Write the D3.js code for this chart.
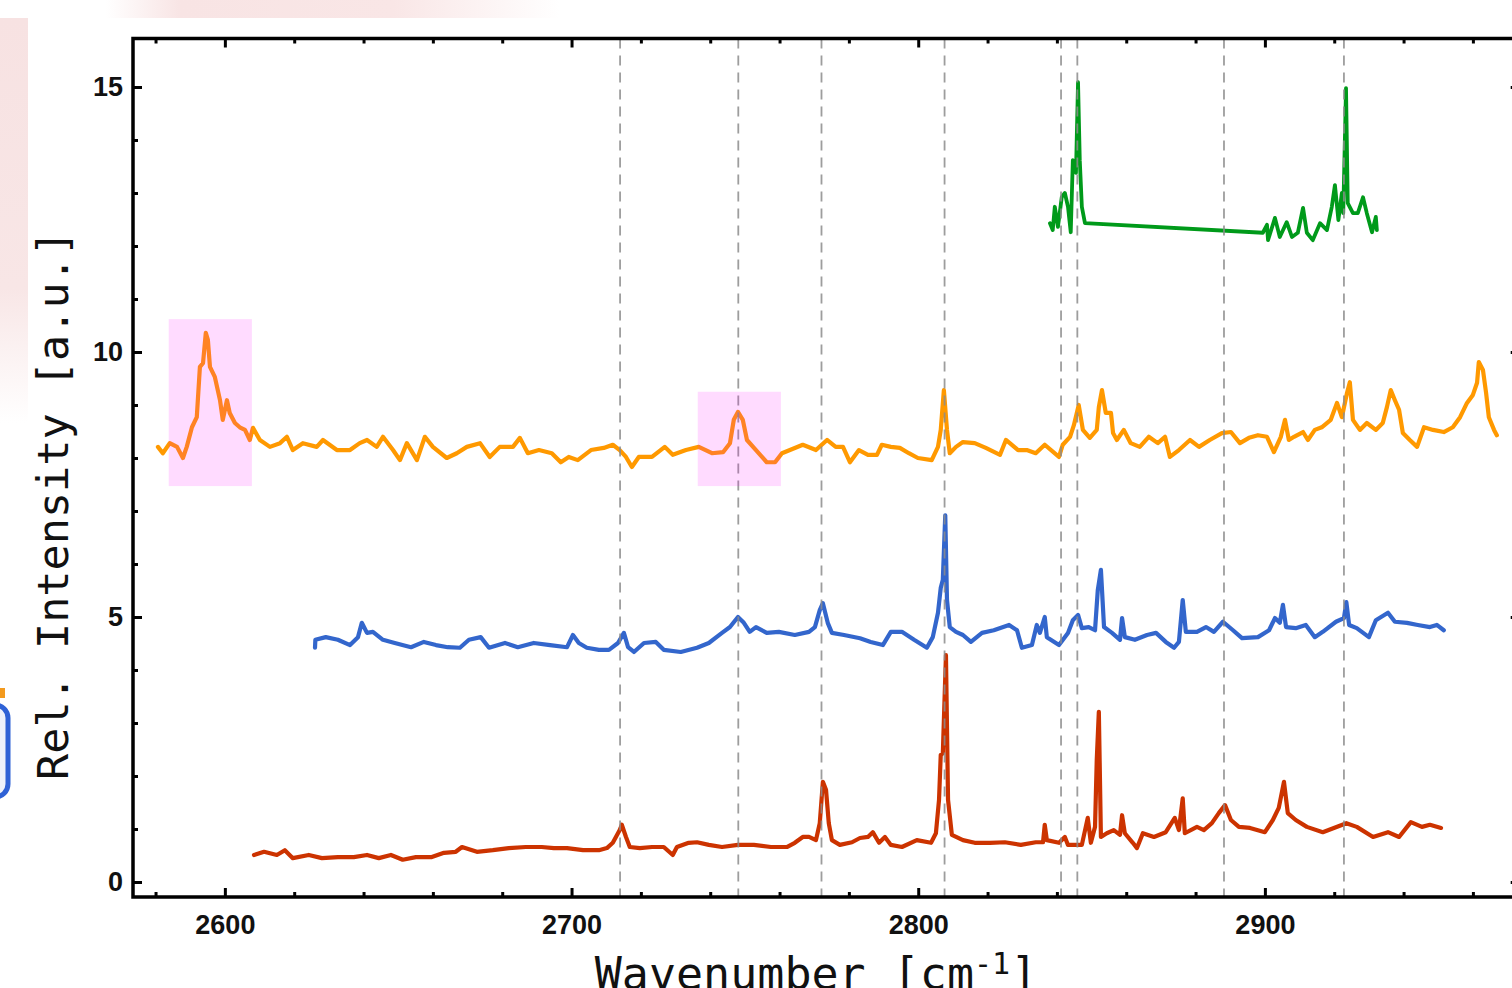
<!DOCTYPE html>
<html><head><meta charset="utf-8">
<script src="https://cdn.jsdelivr.net/npm/d3@7"></script>
<style>html,body{margin:0;padding:0;background:#fff;overflow:hidden}</style>
</head><body>
<svg id="chart" width="1512" height="988"></svg>
<script>
// ---------- data ----------
const orangeX = [2580.7,2582.1,2584.1,2586.2,2587.9,2589.0,2590.5,2591.9,2592.8,2593.7,2594.5,2595.1,2595.7,2597.1,2598.6,2599.4,2600.6,2601.4,2602.9,2604.3,2605.8,2607.2,2608.1,2610.1,2613.0,2615.9,2617.9,2619.6,2622.5,2626.5,2628.3,2632.3,2636.1,2638.9,2641.0,2643.8,2645.6,2648.5,2650.5,2652.5,2655.4,2657.7,2660.0,2664.0,2666.9,2669.8,2673.6,2676.4,2679.3,2683.1,2685.1,2687.4,
2690.6,2694.3,2696.9,2699.2,2701.8,2705.6,2709.3,2711.9,2713.9,2715.7,2717.4,2719.4,2723.2,2726.9,2729.2,2733.0,2736.7,2740.5,2743.7,2745.7,2746.8,2748.0,2749.4,2750.6,2753.2,2756.3,2758.7,2760.7,2763.0,2766.7,2770.5,
2773.7,2776.2,2778.3,2780.3,2782.9,2785.5,2788.1,2789.5,2792.1,2794.7,2797.3,2799.9,2803.9,2805.7,2806.5,2807.4,2808.3,2809.1,2810.9,2812.9,2816.3,2819.5,2823.6,2825.3,2828.8,2831.3,2833.9,2836.5,2840.6,2841.7,2843.8,2844.9,2846.3,2847.5,2849.5,2851.5,2852.1,2853.0,2854.1,2855.6,2856.2,2857.3,2859.3,2861.3,2863.9,2866.5,2869.1,2871.2,2872.6,2875.2,2878.4,2881.0,2884.1,2887.6,2890.2,2892.8,2895.4,2898.0,2900.6,2902.6,2904.6,2905.8,2906.9,2908.4,2911.0,2912.4,2914.4,2916.4,2919.0,2920.8,2922.2,2923.7,2924.5,2925.4,2927.4,2929.4,2932.0,2934.0,2935.2,2936.3,2937.5,2938.7,2939.8,2941.8,2943.9,2945.9,2948.5,2951.6,2954.2,2956.3,2958.3,2960.0,2961.2,2961.7,2962.9,2963.8,2964.6,2966.1,2966.9];
const orangeY = [8.21,8.09,8.28,8.21,8.00,8.21,8.58,8.77,9.72,9.79,10.36,10.23,9.72,9.53,9.09,8.72,9.09,8.85,8.66,8.58,8.53,8.34,8.57,8.34,8.21,8.28,8.40,8.15,8.28,8.21,8.34,8.15,8.15,8.28,8.34,8.21,8.40,8.15,7.96,8.28,7.96,8.40,8.21,8.00,8.09,8.21,8.28,8.02,8.21,8.21,8.38,8.09,
8.15,8.09,7.92,8.02,7.96,8.15,8.19,8.25,8.15,8.02,7.83,8.02,8.02,8.21,8.06,8.15,8.21,8.09,8.11,8.28,8.72,8.87,8.72,8.34,8.15,7.92,7.92,8.09,8.15,8.25,8.15,
8.34,8.21,8.21,7.92,8.15,8.06,8.06,8.25,8.21,8.19,8.09,8.00,7.96,8.21,8.53,9.28,8.53,8.09,8.21,8.30,8.28,8.19,8.06,8.34,8.15,8.15,8.09,8.25,8.02,8.25,8.40,8.62,9.00,8.53,8.38,8.53,8.96,9.28,8.85,8.85,8.47,8.34,8.53,8.28,8.21,8.40,8.28,8.40,8.02,8.15,8.34,8.21,8.34,8.47,8.49,8.28,8.38,8.43,8.40,8.11,8.40,8.72,8.34,8.40,8.49,8.34,8.53,8.58,8.72,9.04,8.77,9.23,9.43,8.72,8.53,8.66,8.53,8.66,8.96,9.28,9.09,8.91,8.47,8.34,8.21,8.58,8.53,8.49,8.58,8.77,9.04,9.19,9.42,9.81,9.66,9.23,8.77,8.53,8.43];

const blueX = [2626.0,2626.1,2629.1,2632.6,2636.1,2638.4,2639.5,2641.0,2642.7,2645.6,2649.0,2653.7,2657.4,2660.9,2664.3,2667.8,2670.4,2673.8,2676.2,2680.8,2684.5,2689.1,2693.8,2698.7,2700.4,2702.1,2704.4,2707.9,2710.8,2713.4,2715.1,2716.3,2718.0,2720.9,2724.3,2726.6,2731.5,2736.2,2739.6,2743.4,2745.7,2748.0,2749.7,2751.4,2753.2,2756.3,2759.8,2764.4,2768.5,2770.2,2771.6,2772.5,2773.9,2775.1,2778.6,2783.2,2786.3,2789.8,2792.1,2795.3,2798.8,2802.5,2804.2,2805.7,2806.5,2807.1,2807.8,2808.3,2809.1,2810.9,2812.9,2815.2,2818.4,2821.8,2826.2,2828.5,2829.9,2832.8,2834.2,2835.1,2836.5,2837.1,2840.6,2843.2,2844.6,2846.1,2847.2,2849.2,2851.0,2851.8,2852.7,2853.6,2855.9,2858.2,2858.8,2859.6,2862.5,2866.0,2868.6,2871.4,2873.8,2875.2,2876.3,2877.2,2880.4,2883.0,2885.3,2887.9,2890.8,2893.4,2898.0,2901.2,2902.9,2904.3,2905.2,2906.1,2908.9,2911.8,2914.4,2916.7,2920.5,2922.8,2923.5,2924.3,2926.5,2930.0,2932.0,2935.5,2937.5,2941.0,2944.1,2947.6,2949.6,2951.6];
const blueY = [4.42,4.57,4.62,4.57,4.47,4.62,4.89,4.70,4.72,4.57,4.51,4.43,4.53,4.47,4.43,4.42,4.57,4.62,4.42,4.51,4.43,4.51,4.47,4.43,4.66,4.51,4.42,4.38,4.38,4.51,4.70,4.43,4.34,4.51,4.53,4.38,4.34,4.42,4.51,4.70,4.81,5.00,4.89,4.72,4.81,4.70,4.72,4.66,4.72,4.81,5.13,5.26,4.89,4.70,4.66,4.60,4.53,4.47,4.72,4.72,4.57,4.42,4.62,5.08,5.55,5.70,6.92,5.32,4.81,4.72,4.66,4.53,4.70,4.75,4.85,4.75,4.42,4.47,4.85,4.70,5.00,4.62,4.47,4.70,4.94,5.04,4.79,4.81,4.75,5.51,5.89,4.81,4.70,4.57,4.98,4.62,4.57,4.66,4.70,4.53,4.42,4.53,5.32,4.72,4.72,4.81,4.72,4.91,4.75,4.60,4.62,4.75,4.98,4.89,5.23,4.81,4.79,4.85,4.62,4.72,4.91,4.98,5.28,4.85,4.79,4.62,4.94,5.08,4.91,4.89,4.85,4.81,4.85,4.75];

const redX = [2608.4,2611.3,2615.0,2617.3,2619.6,2624.2,2628.0,2632.6,2637.2,2641.0,2644.4,2647.9,2651.3,2655.1,2659.7,2663.2,2666.6,2668.4,2672.7,2677.3,2681.9,2686.8,2691.4,2694.9,2698.7,2703.3,2707.9,2710.2,2711.9,2713.9,2714.5,2715.7,2716.8,2719.7,2723.2,2726.6,2729.2,2730.4,2733.8,2736.2,2739.6,2743.4,2748.0,2752.6,2757.5,2762.1,2764.4,2766.7,2768.5,2770.5,2771.6,2772.5,2773.4,2774.2,2775.1,2777.4,2780.9,2783.2,2785.5,2786.9,2788.7,2790.4,2792.1,2795.3,2799.6,2803.7,2805.1,2806.0,2806.5,2807.1,2808.0,2808.6,2809.7,2812.9,2816.3,2820.7,2825.0,2829.6,2833.9,2836.0,2836.5,2837.1,2840.6,2842.3,2843.2,2847.2,2848.9,2849.8,2851.0,2851.5,2852.1,2852.7,2854.4,2856.4,2858.2,2858.8,2859.6,2861.9,2863.1,2864.8,2868.0,2871.4,2874.0,2875.2,2876.3,2876.9,2880.4,2882.4,2884.7,2886.7,2888.5,2890.2,2892.5,2895.7,2900.0,2902.3,2904.0,2905.5,2906.6,2908.9,2912.1,2916.7,2919.9,2923.5,2926.5,2931.2,2935.5,2938.7,2942.1,2945.3,2947.6,2950.8];
const redY = [0.51,0.57,0.51,0.60,0.45,0.51,0.45,0.47,0.47,0.51,0.45,0.51,0.42,0.47,0.47,0.55,0.57,0.66,0.57,0.60,0.64,0.66,0.66,0.64,0.64,0.60,0.60,0.64,0.74,0.98,1.08,0.85,0.66,0.64,0.66,0.66,0.51,0.66,0.74,0.75,0.70,0.66,0.70,0.70,0.66,0.66,0.74,0.85,0.85,0.79,1.11,1.89,1.74,1.11,0.79,0.70,0.75,0.83,0.85,0.94,0.74,0.85,0.70,0.66,0.79,0.74,0.92,1.55,2.40,2.43,4.28,1.55,0.89,0.79,0.74,0.74,0.75,0.70,0.75,0.75,1.08,0.79,0.74,0.85,0.70,0.70,1.21,0.74,1.04,2.30,3.21,0.85,0.92,0.98,0.89,1.26,0.92,0.74,0.64,0.92,0.85,0.94,1.21,0.98,1.58,0.92,1.04,0.98,1.11,1.30,1.45,1.17,1.04,1.02,0.94,1.17,1.40,1.89,1.30,1.17,1.04,0.94,1.02,1.11,1.04,0.85,0.94,0.85,1.13,1.04,1.08,1.02];

const greenX = [2838.0,2838.8,2839.4,2840.3,2841.4,2842.3,2843.2,2844.0,2844.6,2845.5,2846.1,2846.6,2847.2,2848.1,2899.4,2900.6,2900.9,2902.9,2904.3,2906.3,2907.8,2909.5,2911.0,2912.1,2913.8,2915.9,2917.9,2919.3,2920.2,2921.2,2922.2,2922.6,2923.4,2923.9,2925.4,2926.8,2928.3,2929.4,2930.9,2932.0,2932.3];
const greenY = [12.43,12.30,12.74,12.36,12.92,13.00,12.74,12.26,13.62,13.38,15.09,13.62,12.74,12.43,12.25,12.40,12.11,12.53,12.17,12.45,12.17,12.25,12.72,12.25,12.11,12.43,12.30,12.74,13.15,12.49,13.00,12.62,14.98,12.81,12.62,12.62,12.92,12.62,12.26,12.55,12.30];

const markerLines = [2714.0,2748.1,2772.1,2807.6,2841.2,2845.9,2888.2,2922.8];
const highlightX0 = [2583.8,2736.4];
const highlightX1 = [2607.8,2760.4];
const highlightY0 = [7.47,7.47];
const highlightY1 = [10.62,9.25];

const xMajorTicks = [2600,2700,2800,2900];
const xMinorTicks = [2580,2620,2640,2660,2680,2720,2740,2760,2780,2820,2840,2860,2880,2920,2940,2960];
const yMajorTicks = [0,5,10,15];
const yMinorTicks = [1,2,3,4,6,7,8,9,11,12,13,14];
const xDomain = [2573.5, 2973.5];
const yDomain = [-0.283, 15.915];

const seriesList = [
  {name:"orange", xs:orangeX, ys:orangeY, color:"#ff9900", w:4.2},
  {name:"blue", xs:blueX, ys:blueY, color:"#3366cc", w:4.2},
  {name:"red", xs:redX, ys:redY, color:"#cc3300", w:4.2},
  {name:"green", xs:greenX, ys:greenY, color:"#009a1a", w:3.8}
];

// ---------- drawing ----------
const svg = d3.select("#chart");
const defs = svg.append("defs");
const gTop = defs.append("linearGradient").attr("id","gTop").attr("x1","0").attr("x2","1").attr("y1","0").attr("y2","0");
gTop.append("stop").attr("offset","0").attr("stop-color","#ffffff");
gTop.append("stop").attr("offset","0.07").attr("stop-color","#ffffff");
gTop.append("stop").attr("offset","0.12").attr("stop-color","#f8e4e4");
gTop.append("stop").attr("offset","0.26").attr("stop-color","#f9e6e6");
gTop.append("stop").attr("offset","0.37").attr("stop-color","#ffffff");
gTop.append("stop").attr("offset","1").attr("stop-color","#ffffff");
const gLeft = defs.append("linearGradient").attr("id","gLeft").attr("x1","0").attr("x2","0").attr("y1","0").attr("y2","1");
gLeft.append("stop").attr("offset","0").attr("stop-color","#f7e2e2");
gLeft.append("stop").attr("offset","0.3").attr("stop-color","#f8e6e6");
gLeft.append("stop").attr("offset","0.45").attr("stop-color","#ffffff");
gLeft.append("stop").attr("offset","1").attr("stop-color","#ffffff");

svg.append("rect").attr("x",0).attr("y",0).attr("width",1512).attr("height",18).attr("fill","url(#gTop)");
svg.append("rect").attr("x",0).attr("y",18).attr("width",28).attr("height",900).attr("fill","url(#gLeft)");
// partial slide ornament at the left edge
svg.append("rect").attr("x",-30).attr("y",705).attr("width",38).attr("height",92).attr("rx",13)
  .attr("fill","#eef2fb").attr("stroke","#2f62d6").attr("stroke-width",5);
svg.append("rect").attr("x",0).attr("y",688).attr("width",5).attr("height",10).attr("fill","#f39a1e");

const x = d3.scaleLinear().domain(xDomain).range([133, 1519.7]);
const y = d3.scaleLinear().domain(yDomain).range([897, 38.5]);

// series
const line = d3.line().x(d => x(d[0])).y(d => y(d[1]));
seriesList.forEach(s => {
  const pts = s.xs.map((v,i) => [v, s.ys[i]]);
  svg.append("path").datum(pts).attr("d", line)
    .attr("fill","none").attr("stroke", s.color).attr("stroke-width", s.w)
    .attr("stroke-linejoin","round").attr("stroke-linecap","round");
});

// dashed marker lines
svg.append("g").selectAll("line").data(markerLines).join("line")
  .attr("x1", d => x(d)).attr("x2", d => x(d))
  .attr("y1", y(yDomain[1])).attr("y2", y(yDomain[0]))
  .attr("stroke","#8c8c8c").attr("stroke-width",1.8).attr("stroke-dasharray","10,7")
  .attr("stroke-opacity",0.85);

// highlight boxes
svg.append("g").selectAll("rect").data(highlightX0).join("rect")
  .attr("x", (d) => x(d))
  .attr("width", (d,i) => x(highlightX1[i]) - x(d))
  .attr("y", (d,i) => y(highlightY1[i]))
  .attr("height", (d,i) => y(highlightY0[i]) - y(highlightY1[i]))
  .attr("fill","#ff00ff").attr("fill-opacity",0.14);

// axes
function styleAxis(g){
  g.select(".domain").remove();
  g.selectAll(".tick line").attr("stroke","#000").attr("stroke-width",3);
  g.selectAll(".tick text").attr("fill","#111")
    .style("font-family","'Liberation Sans', Arial, sans-serif")
    .style("font-weight","bold").style("font-size","27px");
}
const fmt = d3.format("d");
svg.append("g").attr("transform","translate(0,897)")
  .call(d3.axisBottom(x).tickValues(xMajorTicks).tickSize(-9).tickPadding(18).tickFormat(fmt)).call(styleAxis);
svg.append("g").attr("transform","translate(0,897)")
  .call(d3.axisBottom(x).tickValues(xMinorTicks).tickSize(-5).tickFormat("")).call(styleAxis);
svg.append("g").attr("transform","translate(0,38.5)")
  .call(d3.axisTop(x).tickValues(xMajorTicks).tickSize(-9).tickFormat("")).call(styleAxis);
svg.append("g").attr("transform","translate(0,38.5)")
  .call(d3.axisTop(x).tickValues(xMinorTicks).tickSize(-5).tickFormat("")).call(styleAxis);
svg.append("g").attr("transform","translate(133,0)")
  .call(d3.axisLeft(y).tickValues(yMajorTicks).tickSize(-9).tickPadding(10).tickFormat(fmt)).call(styleAxis);
svg.append("g").attr("transform","translate(133,0)")
  .call(d3.axisLeft(y).tickValues(yMinorTicks).tickSize(-5).tickFormat("")).call(styleAxis);
svg.append("g").attr("transform","translate(1519.7,0)")
  .call(d3.axisRight(y).tickValues(yMajorTicks).tickSize(-9).tickFormat("")).call(styleAxis);
svg.append("g").attr("transform","translate(1519.7,0)")
  .call(d3.axisRight(y).tickValues(yMinorTicks).tickSize(-5).tickFormat("")).call(styleAxis);

// frame
svg.append("rect").attr("x", x(xDomain[0])).attr("y", y(yDomain[1]))
  .attr("width", x(xDomain[1]) - x(xDomain[0])).attr("height", y(yDomain[0]) - y(yDomain[1]))
  .attr("fill","none").attr("stroke","#000").attr("stroke-width",3.5);

// axis titles
svg.append("text").attr("transform","translate(68,505) rotate(-90)")
  .attr("text-anchor","middle")
  .style("font-family","'DejaVu Sans Mono', monospace").style("font-size","43.5px").attr("fill","#111")
  .text("Rel. Intensity [a.u.]");
const xt = svg.append("text").attr("x",816).attr("y",989).attr("text-anchor","middle")
  .style("font-family","'DejaVu Sans Mono', monospace").style("font-size","45px").attr("fill","#111");
xt.append("tspan").text("Wavenumber [cm");
xt.append("tspan").attr("dy",-15).style("font-size","30px").text("-1");
xt.append("tspan").attr("dy",15).text("]");
</script>
</body></html>
